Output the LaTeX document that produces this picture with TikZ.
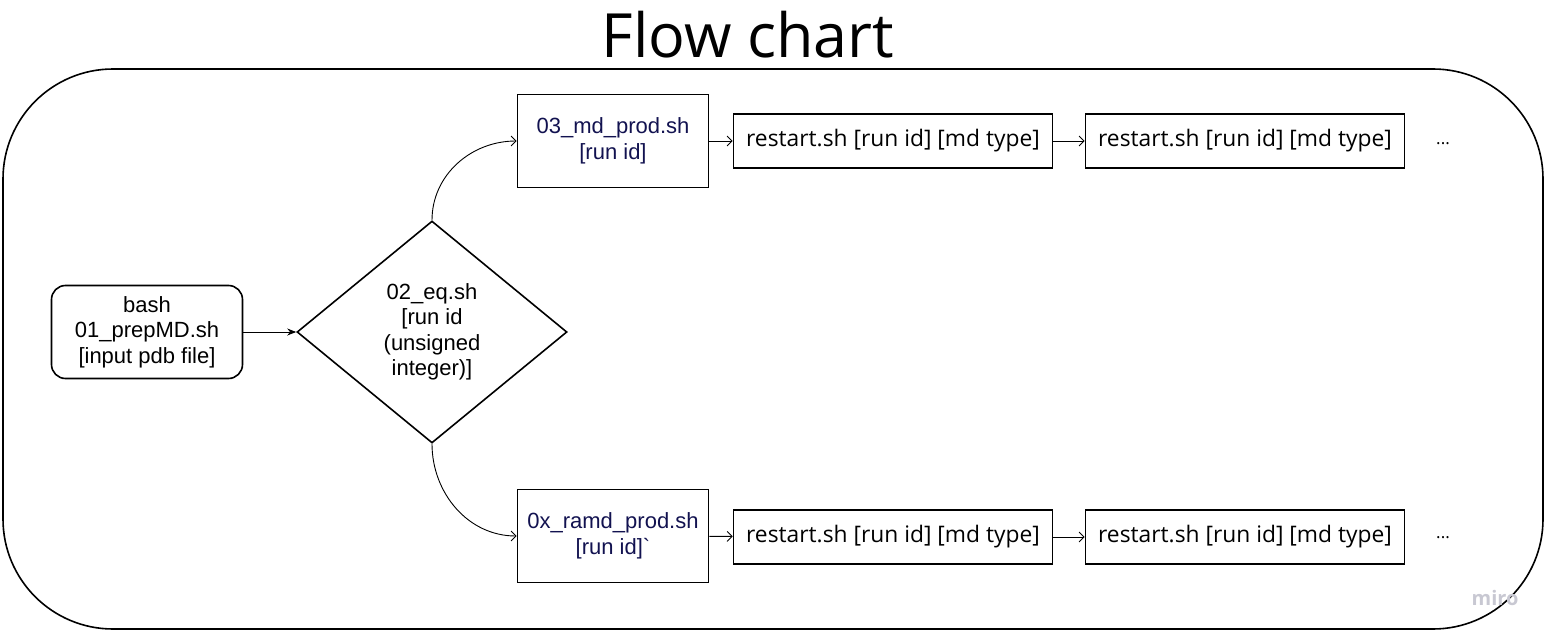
\documentclass[tikz,border=0pt]{standalone}
\usepackage{fontspec}
\setmainfont{Liberation Sans}
\newfontfamily\osans{Open Sans}
\usetikzlibrary{arrows.meta,shapes.geometric}
\definecolor{navy}{RGB}{18,18,80}
\definecolor{mirogray}{RGB}{200,200,210}
\begin{document}
\begin{tikzpicture}[x=1pt,y=-1pt,
  every node/.style={font=\fontsize{22}{25.5}\selectfont},
  frame/.style={draw, line width=1.6pt, rounded corners=110pt},
  startbox/.style={draw, line width=1.6pt, rounded corners=14pt, minimum width=191pt, minimum height=93pt, align=center},
  decbox/.style={draw, line width=1.6pt, shape=diamond, minimum width=270pt, minimum height=222pt, inner sep=0pt, align=center, aspect=1.216},
  prodbox/.style={draw, line width=1.6pt, minimum width=191pt, minimum height=93pt, align=center, text=navy},
  restbox/.style={draw, line width=1.6pt, minimum width=319pt, minimum height=54pt, font=\osans\fontsize{22.8}{26}\selectfont},
  conn/.style={line width=0.9pt, -{Straight Barb[length=5pt,width=10pt,line width=0.9pt]}},
  solidconn/.style={line width=0.9pt, -{Stealth[length=9pt,width=7pt]}},
  dots/.style={font=\osans\fontsize{17}{20}\selectfont}
]
\useasboundingbox (0,0) rectangle (1556,642);
\node[font=\osans\fontsize{61}{70}\selectfont] (title) at (748,35) {Flow chart};
\draw[frame] (3,69) rectangle (1543,629);

\node[startbox] (start) at (147,332) {bash\\01\_prepMD.sh\\{[}input pdb file{]}};
\node[decbox] (eq) at (432,332) {02\_eq.sh\\{[}run id\\(unsigned\\integer){]}};

\node[prodbox] (md) at (613,141) {03\_md\_prod.sh\\{[}run id{]}};
\node[restbox] (r1) at (893,141) {restart.sh [run id] [md type]};
\node[restbox] (r2) at (1245,141) {restart.sh [run id] [md type]};
\node[dots] (d1) at (1443,144) {...};

\node[prodbox] (ramd) at (613,536) {0x\_ramd\_prod.sh\\{[}run id{]}\textasciigrave};
\node[restbox] (r3) at (893,537) {restart.sh [run id] [md type]};
\node[restbox] (r4) at (1245,537) {restart.sh [run id] [md type]};
\node[dots] (d2) at (1443,538) {...};

\node[font=\osans\fontsize{20}{24}\selectfont\bfseries, text=mirogray] (miro) at (1495,598) {miro};

\draw[solidconn] (start) -- (eq);
\draw[conn] (eq.north) to[out=90,in=180] (md.west);
\draw[conn] (eq.south) to[out=-90,in=180] (ramd.west);
\draw[conn] (md) -- (r1);
\draw[conn] (r1) -- (r2);
\draw[conn] (ramd) -- (r3);
\draw[conn] (r3) -- (r4);
\end{tikzpicture}
\end{document}
